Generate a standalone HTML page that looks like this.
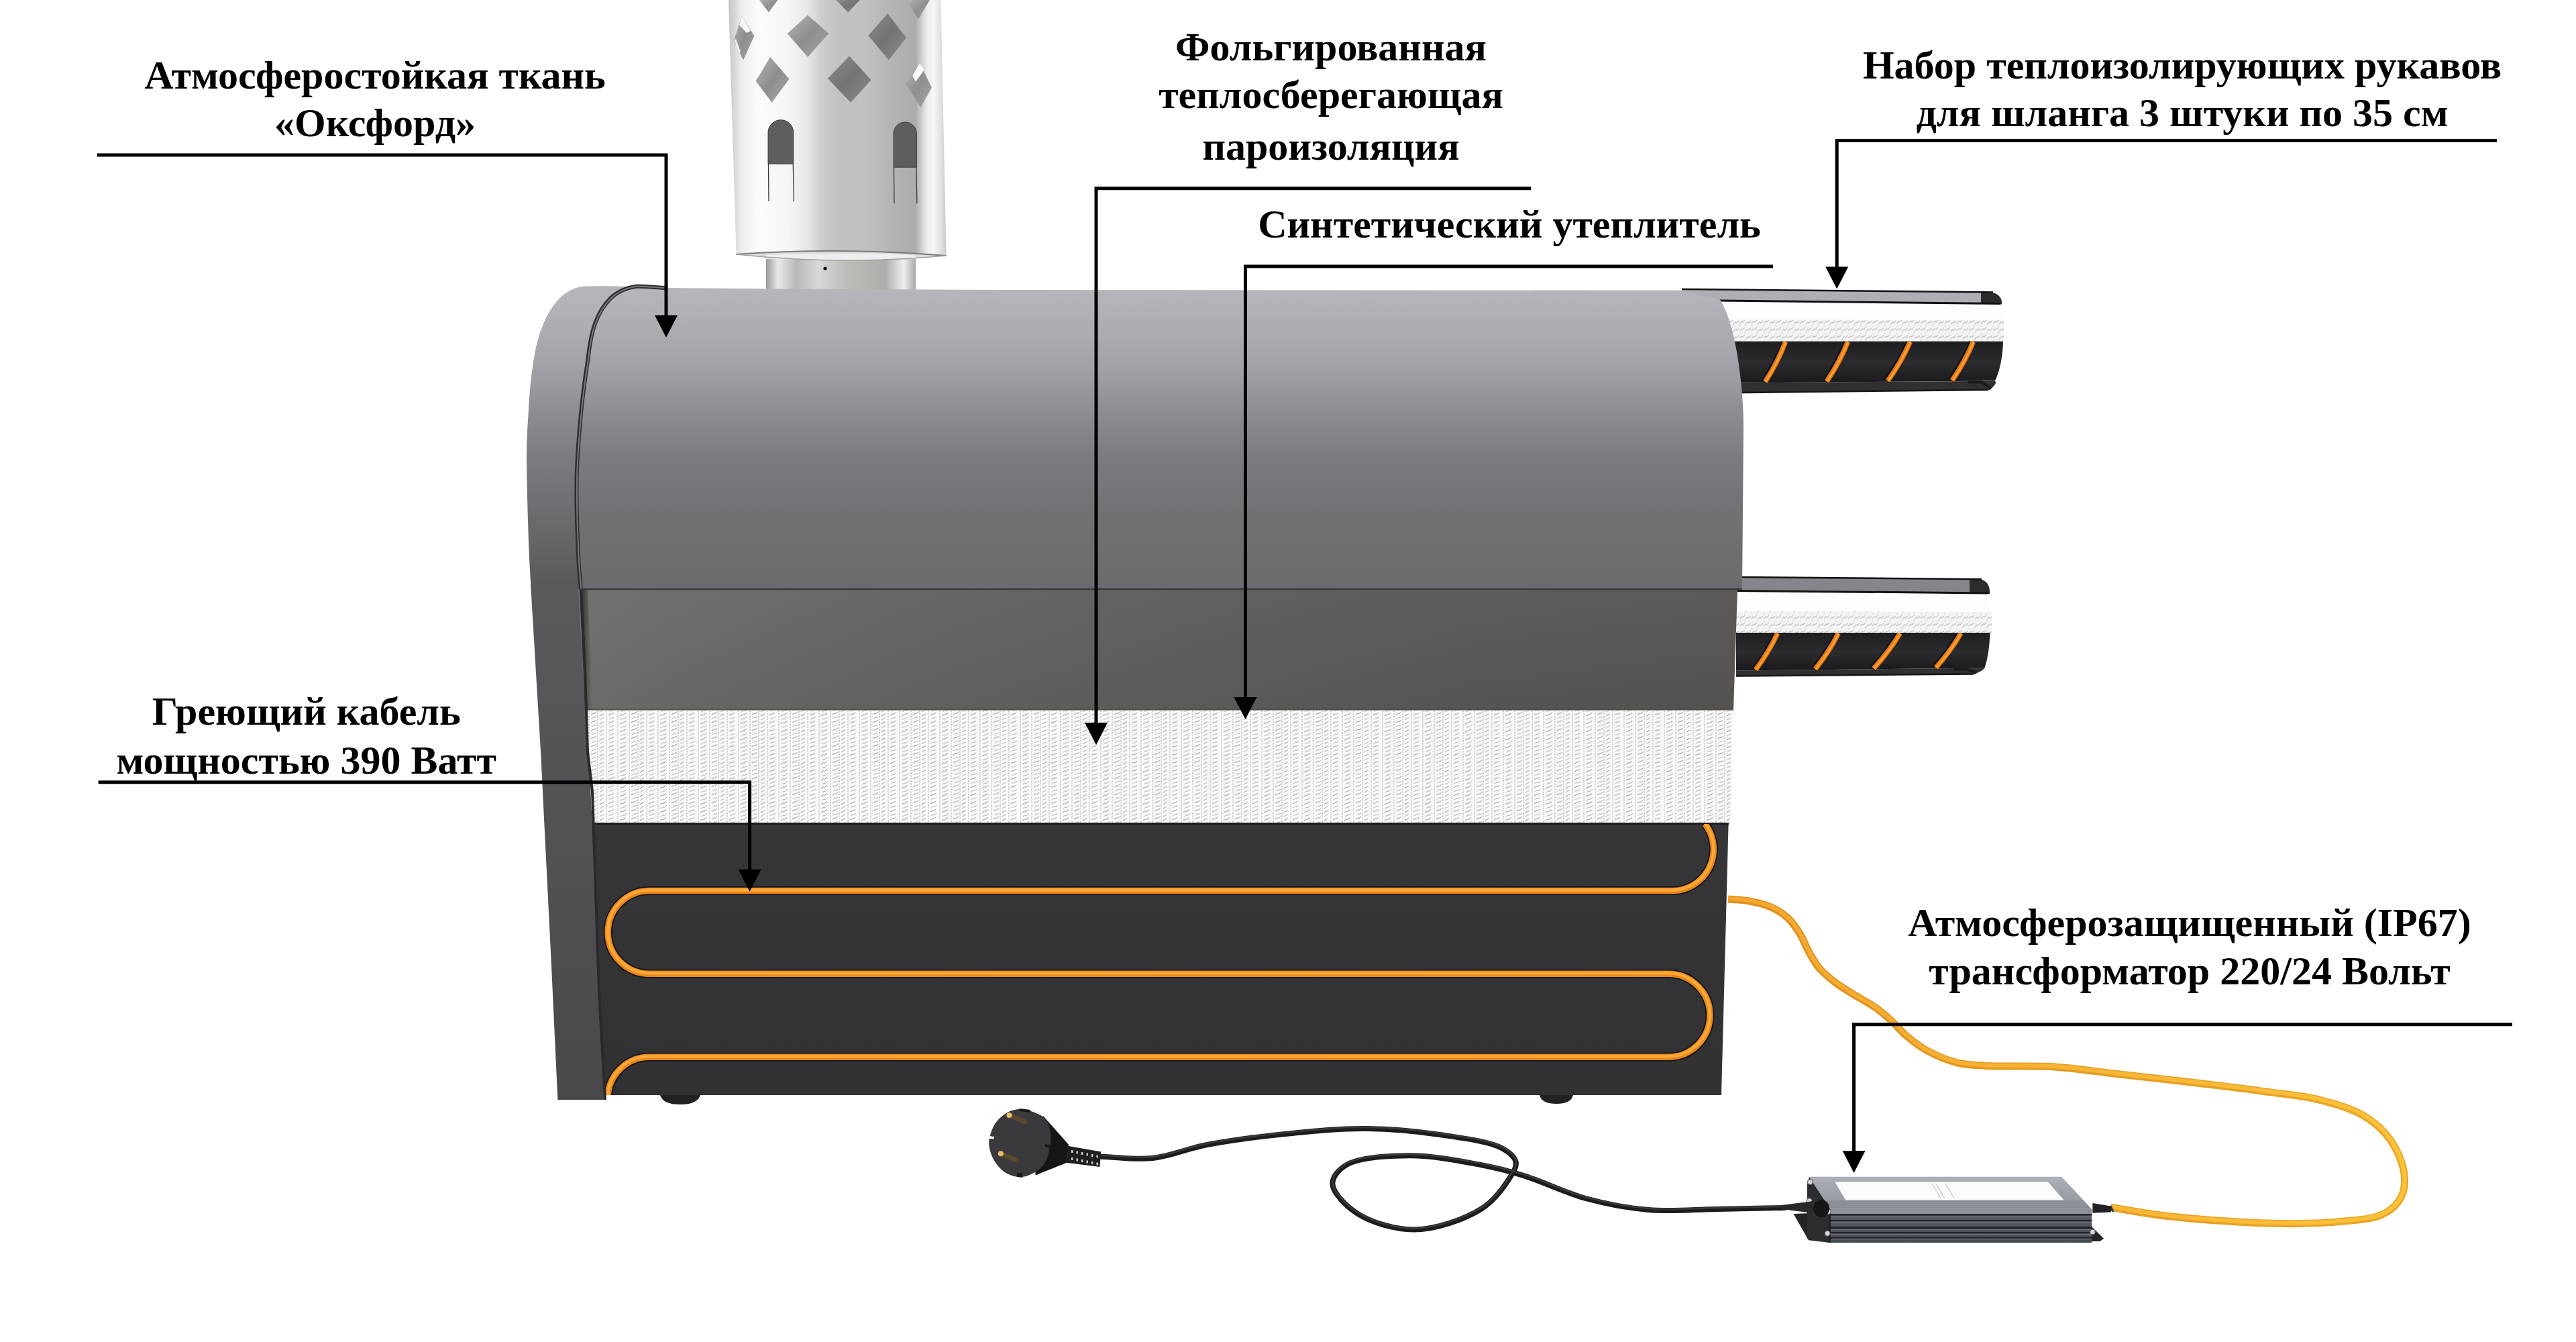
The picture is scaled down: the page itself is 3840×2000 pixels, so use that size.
<!DOCTYPE html>
<html><head><meta charset="utf-8"><title>Heated hose cover</title>
<style>
html,body{margin:0;padding:0;background:#fff;width:3840px;height:2000px;overflow:hidden;font-family:"Liberation Serif",serif;}
svg{position:absolute;left:0;top:0;display:block}
</style></head><body>
<svg width="3840" height="2000" viewBox="0 0 3840 2000">
<defs>
<linearGradient id="gCover" x1="0" y1="432" x2="0" y2="880" gradientUnits="userSpaceOnUse">
 <stop offset="0" stop-color="#b5b6bc"/>
 <stop offset="0.152" stop-color="#abacb2"/>
 <stop offset="0.286" stop-color="#9e9fa5"/>
 <stop offset="0.42" stop-color="#8b8c91"/>
 <stop offset="0.554" stop-color="#7b7c81"/>
 <stop offset="0.732" stop-color="#717176"/>
 <stop offset="1" stop-color="#6a6a6f"/>
</linearGradient>
<linearGradient id="gFoil" x1="860" y1="0" x2="2600" y2="0" gradientUnits="userSpaceOnUse">
 <stop offset="0" stop-color="#6f6e6b"/>
 <stop offset="0.08" stop-color="#6b6a67"/>
 <stop offset="0.31" stop-color="#63625f"/>
 <stop offset="0.54" stop-color="#5d5c59"/>
 <stop offset="0.77" stop-color="#595755"/>
 <stop offset="1" stop-color="#575452"/>
</linearGradient>
<linearGradient id="gFoilV" x1="0" y1="878" x2="0" y2="1058" gradientUnits="userSpaceOnUse">
 <stop offset="0" stop-color="#ffffff" stop-opacity="0.03"/>
 <stop offset="1" stop-color="#000000" stop-opacity="0.03"/>
</linearGradient>
<linearGradient id="gDark" x1="0" y1="1228" x2="0" y2="1632" gradientUnits="userSpaceOnUse">
 <stop offset="0" stop-color="#363638"/>
 <stop offset="1" stop-color="#313133"/>
</linearGradient>
<linearGradient id="gChim" x1="1086" y1="0" x2="1411" y2="0" gradientUnits="userSpaceOnUse">
 <stop offset="0" stop-color="#c4c4c6"/>
 <stop offset="0.015" stop-color="#cfcfd0"/>
 <stop offset="0.06" stop-color="#ededee"/>
 <stop offset="0.135" stop-color="#fbfbfb"/>
 <stop offset="0.274" stop-color="#f6f6f6"/>
 <stop offset="0.366" stop-color="#e6e6e6"/>
 <stop offset="0.428" stop-color="#cdcdcd"/>
 <stop offset="0.505" stop-color="#c2c2c2"/>
 <stop offset="0.628" stop-color="#c2c1c0"/>
 <stop offset="0.78" stop-color="#b3b1af"/>
 <stop offset="0.858" stop-color="#aeacaa"/>
 <stop offset="0.91" stop-color="#ecebea"/>
 <stop offset="0.94" stop-color="#f6f6f6"/>
 <stop offset="0.98" stop-color="#dcdcdc"/>
 <stop offset="1" stop-color="#c8c8c8"/>
</linearGradient>
<linearGradient id="gPipe" x1="1142" y1="0" x2="1365" y2="0" gradientUnits="userSpaceOnUse">
 <stop offset="0" stop-color="#9a9a9c"/>
 <stop offset="0.08" stop-color="#e8e8e8"/>
 <stop offset="0.2" stop-color="#b8b8b8"/>
 <stop offset="0.35" stop-color="#d8d8d8"/>
 <stop offset="0.55" stop-color="#bdbab6"/>
 <stop offset="0.8" stop-color="#b0aeab"/>
 <stop offset="0.92" stop-color="#eeeeee"/>
 <stop offset="1" stop-color="#a8a8a8"/>
</linearGradient>
<linearGradient id="gDia" x1="0" y1="0" x2="1" y2="1">
 <stop offset="0" stop-color="#b4b4b6"/>
 <stop offset="0.5" stop-color="#8e8e90"/>
 <stop offset="1" stop-color="#a6a6a8"/>
</linearGradient>
<linearGradient id="gDiaD" x1="0" y1="0" x2="1" y2="1">
 <stop offset="0" stop-color="#8a8a8c"/>
 <stop offset="0.5" stop-color="#747476"/>
 <stop offset="1" stop-color="#8c8c8e"/>
</linearGradient>
<pattern id="pIns" x="0" y="0" width="60" height="12" patternUnits="userSpaceOnUse">
 <rect width="60" height="12" fill="#f9f9fb"/>
 <path d="M4 0 V12 M21 0 V12 M38 0 V12 M51 0 V12" stroke="#c2c2c6" stroke-width="1.5" stroke-dasharray="1.8 1.8"/>
 <path d="M7 10 L10 8 L12 8.5 L15 6 M24 11 L27 9 L29 9.5 L33 6.5 M41 9 L44 7 L46 7.5 L49 5 M54 11 L57 9 L60 8" stroke="#bdbdc1" stroke-width="1.6" fill="none"/>
 <path d="M8 4 L11 2 L13 2.5 L16 0 M25 5 L28 3 L30 3.5 L34 0.5 M42 3 L45 1 L47 1.5 L49 0 M54 5 L57 3 L60 2" stroke="#c8c8cc" stroke-width="1.4" fill="none"/>
</pattern>
<pattern id="pTex" x="0" y="0" width="18" height="11" patternUnits="userSpaceOnUse">
 <rect width="18" height="11" fill="#f4f4f5"/>
 <path d="M1 9 L4 6 L6 7 L9 4 M10 10 L13 7 L15 8 L18 5" stroke="#c6c6ca" stroke-width="1.4" fill="none"/>
 <path d="M0 2 H3 M8 1 H11" stroke="#d4d4d8" stroke-width="1.2"/>
</pattern>
<linearGradient id="gTrTop" x1="0" y1="1754" x2="0" y2="1802" gradientUnits="userSpaceOnUse">
 <stop offset="0" stop-color="#a9adb5"/>
 <stop offset="1" stop-color="#92969f"/>
</linearGradient>
<linearGradient id="gTrFront" x1="0" y1="1802" x2="0" y2="1852" gradientUnits="userSpaceOnUse">
 <stop offset="0" stop-color="#5c6068"/>
 <stop offset="1" stop-color="#464a52"/>
</linearGradient>
<linearGradient id="gSleeveBlk" x1="0" y1="0" x2="0" y2="1">
 <stop offset="0" stop-color="#1e1e20"/>
 <stop offset="0.5" stop-color="#2c2c2e"/>
 <stop offset="1" stop-color="#1a1a1c"/>
</linearGradient>
<linearGradient id="gStrip" x1="0" y1="870" x2="0" y2="1640" gradientUnits="userSpaceOnUse">
 <stop offset="0" stop-color="#5a5a5e"/>
 <stop offset="1" stop-color="#49494c"/>
</linearGradient>
<linearGradient id="gOrEdge" x1="2576" y1="0" x2="3590" y2="0" gradientUnits="userSpaceOnUse">
 <stop offset="0" stop-color="#e08f1e"/>
 <stop offset="1" stop-color="#eaa828"/>
</linearGradient>
<linearGradient id="gOr" x1="2576" y1="0" x2="3590" y2="0" gradientUnits="userSpaceOnUse">
 <stop offset="0" stop-color="#f3a62e"/>
 <stop offset="1" stop-color="#fcc23a"/>
</linearGradient>
<linearGradient id="gStripOv" x1="0" y1="690" x2="0" y2="878" gradientUnits="userSpaceOnUse">
 <stop offset="0" stop-color="#000" stop-opacity="0"/>
 <stop offset="0.35" stop-color="#000" stop-opacity="0.03"/>
 <stop offset="1" stop-color="#000" stop-opacity="0.17"/>
</linearGradient>
<linearGradient id="gFoilShadow" x1="866" y1="0" x2="882" y2="0" gradientUnits="userSpaceOnUse">
 <stop offset="0" stop-color="#2a2a2c" stop-opacity="0.9"/>
 <stop offset="1" stop-color="#2a2a2c" stop-opacity="0"/>
</linearGradient>
<clipPath id="cDark"><polygon points="883,1228 2576.6,1228 2566,1632 901,1632"/></clipPath>
<clipPath id="cChim"><path d="M1086 0 L1402.5 0 L1410.7 382 Q1254 392 1097.5 380 Z"/></clipPath>
</defs>
<path d="M1142 380 L1365 380 L1365 432 L1142 432 Z" fill="url(#gPipe)"/>
<circle cx="1230" cy="400" r="2.6" fill="#111"/>
<path d="M1097.5 379 Q1254 368 1410.7 381 Q1254 396 1097.5 379 Z" fill="#dcdcde"/>
<path d="M1142 386 Q1254 389 1365 386 L1365 380 Q1254 376 1142 380 Z" fill="#eeeeee"/>
<path d="M1086 0 L1402.5 0 L1410.7 381 Q1254 368 1097.5 379 Z" fill="url(#gChim)"/>
<path d="M1097.5 379 Q1254 368 1410.7 381" stroke="#7a7a7c" stroke-width="2" fill="none"/>
<path d="M1097.5 379 Q1254 396 1410.7 381" stroke="#a0a0a2" stroke-width="1.5" fill="none"/>
<polygon points="1131.8,0.0 1159.4,0.0 1146.0,18.6" fill="url(#gDia)"/>
<polygon points="1246.6,0.0 1281.6,0.0 1264.2,18.6" fill="url(#gDiaD)"/>
<polygon points="1351.6,0.0 1385.9,0.0 1368.8,29.0" fill="url(#gDia)"/>
<polygon points="1105.8,23.8 1124.4,53.6 1108.0,89.4 1093.8,61.1" fill="url(#gDia)"/>
<polygon points="1204.1,22.4 1235.4,49.9 1204.1,84.9 1173.6,49.9" fill="url(#gDia)"/>
<polygon points="1323.3,20.1 1350.9,56.6 1324.8,89.4 1294.3,52.9" fill="url(#gDiaD)"/>
<polygon points="1148.2,84.9 1176.5,117.7 1150.5,152.7 1126.6,120.7" fill="url(#gDia)"/>
<polygon points="1266.0,83.4 1298.7,119.2 1268.2,152.7 1233.9,117.0" fill="url(#gDiaD)"/>
<polygon points="1371.0,93.9 1388.9,130.4 1372.5,160.2 1350.1,124.4" fill="url(#gDia)"/>
<polygon points="1105.8,23.8 1119,46 1113,49 1102,37" fill="#f6f6f6"/>
<polygon points="1094.6,60 1097,58 1104,77 1102,80" fill="#f2f2f2"/>
<polygon points="1371,94 1377.5,104.5 1365,121.5 1360,113" fill="#f8f8f8"/>
<path d="M1145.0 244.3 L1145.0 197.6 A18.9 18.9 0 0 1 1182.8 197.6 L1182.8 244.3 Z" fill="#5e5e60" stroke="#3a3a3c" stroke-width="1"/>
<path d="M1145.5 244.3 L1146.0 300.0 M1182.3 244.3 L1183.3 300.0" stroke="#3a3a3c" stroke-width="1.3"/>
<path d="M1332.0 249.2 L1332.0 199.2 A17.2 17.2 0 0 1 1366.4 199.2 L1366.4 249.2 Z" fill="#5e5e60" stroke="#3a3a3c" stroke-width="1"/>
<path d="M1332.5 249.2 L1333.0 303.3 M1365.9 249.2 L1366.9 303.3" stroke="#3a3a3c" stroke-width="1.3"/>
<path d="M2507.0 571.0 L2974.0 567.7 Q2978.0 571.6 2966.0 581.0 L2507.0 586.0 Z" fill="#303032"/>
<path d="M2507.0 586.0 L2964.0 581.0" stroke="#161618" stroke-width="2.5"/>
<path d="M2934.0 569.6 L2954.0 569.6 L2968.0 579.0" stroke="#1a1a1c" stroke-width="4" fill="none"/>
<path d="M2507.0 508.5 L2986.0 508.5 Q2985.0 544.0 2974.0 567.6 L2507.0 571.0 Z" fill="url(#gSleeveBlk)"/>
<path d="M2660.0 509.5 Q2648.9 539.3 2629.8 569.1" stroke="#0e1420" stroke-width="10" fill="none"/>
<path d="M2661.5 509.5 Q2650.4 539.3 2631.3 569.1" stroke="#e57814" stroke-width="7.5" fill="none"/>
<path d="M2662.0 509.5 Q2650.9 539.3 2631.8 569.1" stroke="#ff9e34" stroke-width="3" fill="none"/>
<path d="M2753.0 509.5 Q2741.2 539.0 2721.5 568.5" stroke="#0e1420" stroke-width="10" fill="none"/>
<path d="M2754.5 509.5 Q2742.8 539.0 2723.0 568.5" stroke="#e57814" stroke-width="7.5" fill="none"/>
<path d="M2755.0 509.5 Q2743.2 539.0 2723.5 568.5" stroke="#ff9e34" stroke-width="3" fill="none"/>
<path d="M2845.9 509.5 Q2833.2 538.7 2812.5 567.8" stroke="#0e1420" stroke-width="10" fill="none"/>
<path d="M2847.4 509.5 Q2834.7 538.7 2814.0 567.8" stroke="#e57814" stroke-width="7.5" fill="none"/>
<path d="M2847.9 509.5 Q2835.2 538.7 2814.5 567.8" stroke="#ff9e34" stroke-width="3" fill="none"/>
<path d="M2939.9 509.5 Q2928.2 538.3 2908.5 567.1" stroke="#0e1420" stroke-width="10" fill="none"/>
<path d="M2941.4 509.5 Q2929.7 538.3 2910.0 567.1" stroke="#e57814" stroke-width="7.5" fill="none"/>
<path d="M2941.9 509.5 Q2930.2 538.3 2910.5 567.1" stroke="#ff9e34" stroke-width="3" fill="none"/>
<polygon points="2507.0,476.0 2987.0,476.3 2987.0,508.5 2507.0,508.5" fill="url(#pTex)"/>
<polygon points="2507.0,447.0 2978.0,452.0 2987.0,476.3 2507.0,476.0" fill="#fdfdfe"/>
<polygon points="2507.0,431.0 2955.0,435.2 2955.0,451.7 2507.0,447.0" fill="#aeafb5"/>
<path d="M2953.0 434.2 L2971.0 436.0 Q2985.0 440.5 2984.0 453.5 L2953.0 452.7 Z" fill="#2c2c2e"/>
<path d="M2507.0 431.0 L2971.0 435.5" stroke="#111" stroke-width="2.5"/>
<path d="M2507.0 447.5 L2982.0 452.5" stroke="#111" stroke-width="3"/>
<path d="M2588.0 999.5 L2958.4 995.5 Q2956.0 999.4 2944.0 1004.5 L2588.0 1007.5 Z" fill="#303032"/>
<path d="M2588.0 1007.5 L2942.0 1004.5" stroke="#161618" stroke-width="2.5"/>
<path d="M2912.0 997.4 L2932.0 997.4 L2946.0 1002.5" stroke="#1a1a1c" stroke-width="4" fill="none"/>
<path d="M2588.0 943.0 L2966.5 943.0 Q2965.5 975.2 2958.4 995.4 L2588.0 999.5 Z" fill="url(#gSleeveBlk)"/>
<path d="M2648.1 944.0 Q2635.8 971.1 2615.5 998.2" stroke="#0e1420" stroke-width="10" fill="none"/>
<path d="M2649.6 944.0 Q2637.3 971.1 2617.0 998.2" stroke="#e57814" stroke-width="7.5" fill="none"/>
<path d="M2650.1 944.0 Q2637.8 971.1 2617.5 998.2" stroke="#ff9e34" stroke-width="3" fill="none"/>
<path d="M2738.9 944.0 Q2725.7 970.6 2704.5 997.2" stroke="#0e1420" stroke-width="10" fill="none"/>
<path d="M2740.4 944.0 Q2727.2 970.6 2706.0 997.2" stroke="#e57814" stroke-width="7.5" fill="none"/>
<path d="M2740.9 944.0 Q2727.7 970.6 2706.5 997.2" stroke="#ff9e34" stroke-width="3" fill="none"/>
<path d="M2830.8 944.0 Q2815.2 970.1 2791.5 996.3" stroke="#0e1420" stroke-width="10" fill="none"/>
<path d="M2832.3 944.0 Q2816.7 970.1 2793.0 996.3" stroke="#e57814" stroke-width="7.5" fill="none"/>
<path d="M2832.8 944.0 Q2817.2 970.1 2793.5 996.3" stroke="#ff9e34" stroke-width="3" fill="none"/>
<path d="M2921.5 944.0 Q2906.8 969.6 2884.2 995.3" stroke="#0e1420" stroke-width="10" fill="none"/>
<path d="M2923.0 944.0 Q2908.3 969.6 2885.7 995.3" stroke="#e57814" stroke-width="7.5" fill="none"/>
<path d="M2923.5 944.0 Q2908.8 969.6 2886.2 995.3" stroke="#ff9e34" stroke-width="3" fill="none"/>
<polygon points="2588.0,910.6 2969.0,911.7 2969.0,943.0 2588.0,943.0" fill="url(#pTex)"/>
<polygon points="2588.0,880.0 2960.0,883.4 2969.0,911.7 2588.0,910.6" fill="#fdfdfe"/>
<polygon points="2588.0,860.0 2938.0,862.9 2938.0,883.1 2588.0,880.0" fill="#85868c"/>
<path d="M2936.0 861.9 L2954.0 863.7 Q2967.0 868.2 2966.0 884.9 L2936.0 884.1 Z" fill="#2c2c2e"/>
<path d="M2588.0 860.0 L2954.0 863.2" stroke="#111" stroke-width="2.5"/>
<path d="M2588.0 880.5 L2964.0 883.9" stroke="#111" stroke-width="3"/>
<polygon points="791,870 866,870 876,1120 883,1180 893,1480 902,1639 831.4,1639 822,1440 809,1180 806,1120" fill="url(#gStrip)"/>
<polygon points="862,878 2597,878 2590,880 2584,1058 872,1058" fill="url(#gFoil)"/>
<polygon points="862,878 2597,878 2590,880 2584,1058 872,1058" fill="url(#gFoilV)"/>
<polygon points="864,878 876,878 884,1058 872,1058" fill="url(#gFoilShadow)"/>
<polygon points="874,1058 2584,1058 2579,1228 883,1228" fill="url(#pIns)"/>
<rect x="874" y="1056" width="1710" height="3" fill="#4a4a48" opacity="0.5"/>
<polygon points="883,1228 2576.6,1228 2566,1632 901,1632" fill="url(#gDark)"/>
<rect x="883" y="1226" width="1694" height="3" fill="#1e1e20"/>
<g clip-path="url(#cDark)">
<path d="M2541.7 1228 A62 62 0 0 1 2492 1327.6 L968 1327.6 A61.8 61.8 0 0 0 968 1451.2 L2487 1451.2 A62 62 0 0 1 2487 1575.2 L968 1575.2 A62 62 0 0 0 906 1637" stroke="#12141c" stroke-width="13" fill="none"/>
<path d="M2541.7 1228 A62 62 0 0 1 2492 1327.6 L968 1327.6 A61.8 61.8 0 0 0 968 1451.2 L2487 1451.2 A62 62 0 0 1 2487 1575.2 L968 1575.2 A62 62 0 0 0 906 1637" stroke="#e8861a" stroke-width="9.5" fill="none"/>
<path d="M2541.7 1228 A62 62 0 0 1 2492 1327.6 L968 1327.6 A61.8 61.8 0 0 0 968 1451.2 L2487 1451.2 A62 62 0 0 1 2487 1575.2 L968 1575.2 A62 62 0 0 0 906 1637" stroke="#ffa838" stroke-width="4.5" fill="none" transform="translate(0,-1)"/>
</g>
<path d="M869.9 426.8 C900 425 960 428 1000 429 L1160 430.6 L1500 432 L2507 432.8 L2564 446.5 C2575 465 2582 485 2590 530 C2596 570 2599 600 2599 640 L2597 878 L866 878 L792 878 C789 840 786 760 785 690.6 C785 660 786 640 787.2 623.5 C789 590 791 565 793.9 547.5 C797 525 801 505 807.3 489.4 C814 472 822 457 834 444.7 C845 434 857 428 869.9 426.8 Z" fill="url(#gCover)"/>
<path d="M785 690 C785 760 788 840 792 878 L866 878 C864 840 860 780 859.6 713 L859 690 Z" fill="url(#gStripOv)"/>
<path d="M995 429.5 C975 428 960 426.5 950 426.8 C935 428 920 435 910 444.7 C900 455 893 466 887.7 480.5 C882 495 879 512 876.6 534 C872 565 868 590 865.4 623.5 C862 660 860 690 859.6 713 C859 750 860 780 861 802 C862 840 864 860 866 878" stroke="#2e2e30" stroke-width="6" fill="none"/>
<path d="M995 429.5 C975 428 960 426.5 950 426.8 C935 428 920 435 910 444.7 C900 455 893 466 887.7 480.5 C882 495 879 512 876.6 534 C872 565 868 590 865.4 623.5 C862 660 860 690 859.6 713 C859 750 860 780 861 802 C862 840 864 860 866 878" stroke="#77787d" stroke-width="2" fill="none" transform="translate(0.5,0)"/>
<path d="M866 878 L872 999 L876 1120 L883 1180 L893 1480 L902 1639" stroke="#2a2a2c" stroke-width="4" fill="none"/>
<path d="M866 878 C1200 877 1800 879 2597 878" stroke="#3a3a3e" stroke-width="2.5" fill="none"/>
<path d="M984 1632 L1044 1632 Q1040 1646 1014 1646 Q988 1646 984 1632 Z" fill="#222224"/>
<path d="M2295 1632 L2345 1632 Q2342 1645 2320 1645 Q2298 1645 2295 1632 Z" fill="#222224"/>
<path d="M 2576.0 1340.1 C 2585.6 1340.9 2594.8 1340.7 2604.7 1342.4 C 2615.5 1344.3 2628.0 1346.8 2638.3 1351.3 C 2648.1 1355.5 2657.6 1361.2 2665.1 1368.1 C 2672.4 1374.7 2677.8 1383.2 2683.0 1391.5 C 2688.3 1399.9 2691.5 1409.8 2696.4 1418.4 C 2701.2 1426.9 2705.7 1435.6 2712.0 1443.0 C 2718.4 1450.5 2726.4 1456.9 2734.4 1463.1 C 2742.7 1469.6 2751.7 1475.0 2761.2 1481.0 C 2771.7 1487.6 2784.7 1494.0 2794.8 1501.1 C 2803.9 1507.5 2811.6 1514.1 2819.4 1521.2 C 2827.2 1528.3 2833.3 1536.5 2841.7 1543.6 C 2851.0 1551.5 2861.2 1559.6 2873.0 1566.0 C 2886.2 1573.2 2902.8 1580.1 2917.7 1583.8 C 2931.8 1587.3 2942.8 1587.3 2960.0 1588.4 C 2986.7 1590.0 3028.9 1587.7 3062.3 1589.9 C 3094.6 1592.0 3124.6 1597.1 3157.4 1600.8 C 3192.4 1604.8 3229.8 1608.7 3266.0 1613.0 C 3302.3 1617.3 3341.2 1622.0 3374.8 1626.6 C 3404.0 1630.6 3430.7 1632.3 3456.3 1638.8 C 3480.3 1644.9 3505.4 1651.8 3524.2 1663.3 C 3540.7 1673.4 3555.0 1686.5 3565.0 1701.3 C 3574.7 1715.6 3582.3 1735.0 3584.0 1750.2 C 3585.4 1762.7 3584.0 1775.6 3578.6 1785.5 C 3573.2 1795.6 3563.6 1804.2 3551.4 1810.0 C 3534.7 1818.0 3507.2 1818.6 3483.5 1820.9 C 3457.6 1823.4 3431.1 1823.8 3402.0 1823.6 C 3368.4 1823.3 3326.9 1820.7 3293.3 1818.2 C 3264.1 1816.0 3237.3 1813.4 3211.7 1810.0 C 3188.7 1806.9 3168.2 1802.7 3146.5 1799.1" stroke="url(#gOrEdge)" stroke-width="11" fill="none"/>
<path d="M 2576.0 1340.1 C 2585.6 1340.9 2594.8 1340.7 2604.7 1342.4 C 2615.5 1344.3 2628.0 1346.8 2638.3 1351.3 C 2648.1 1355.5 2657.6 1361.2 2665.1 1368.1 C 2672.4 1374.7 2677.8 1383.2 2683.0 1391.5 C 2688.3 1399.9 2691.5 1409.8 2696.4 1418.4 C 2701.2 1426.9 2705.7 1435.6 2712.0 1443.0 C 2718.4 1450.5 2726.4 1456.9 2734.4 1463.1 C 2742.7 1469.6 2751.7 1475.0 2761.2 1481.0 C 2771.7 1487.6 2784.7 1494.0 2794.8 1501.1 C 2803.9 1507.5 2811.6 1514.1 2819.4 1521.2 C 2827.2 1528.3 2833.3 1536.5 2841.7 1543.6 C 2851.0 1551.5 2861.2 1559.6 2873.0 1566.0 C 2886.2 1573.2 2902.8 1580.1 2917.7 1583.8 C 2931.8 1587.3 2942.8 1587.3 2960.0 1588.4 C 2986.7 1590.0 3028.9 1587.7 3062.3 1589.9 C 3094.6 1592.0 3124.6 1597.1 3157.4 1600.8 C 3192.4 1604.8 3229.8 1608.7 3266.0 1613.0 C 3302.3 1617.3 3341.2 1622.0 3374.8 1626.6 C 3404.0 1630.6 3430.7 1632.3 3456.3 1638.8 C 3480.3 1644.9 3505.4 1651.8 3524.2 1663.3 C 3540.7 1673.4 3555.0 1686.5 3565.0 1701.3 C 3574.7 1715.6 3582.3 1735.0 3584.0 1750.2 C 3585.4 1762.7 3584.0 1775.6 3578.6 1785.5 C 3573.2 1795.6 3563.6 1804.2 3551.4 1810.0 C 3534.7 1818.0 3507.2 1818.6 3483.5 1820.9 C 3457.6 1823.4 3431.1 1823.8 3402.0 1823.6 C 3368.4 1823.3 3326.9 1820.7 3293.3 1818.2 C 3264.1 1816.0 3237.3 1813.4 3211.7 1810.0 C 3188.7 1806.9 3168.2 1802.7 3146.5 1799.1" stroke="url(#gOr)" stroke-width="6" fill="none" transform="translate(0,-1)"/>
<path d="M 1641.0 1723.7 C 1666.6 1724.5 1692.1 1728.7 1717.9 1726.0 C 1744.9 1723.1 1769.7 1711.7 1799.4 1706.0 C 1834.6 1699.3 1876.6 1693.9 1915.9 1689.9 C 1956.0 1685.8 1998.2 1681.5 2037.6 1681.9 C 2074.8 1682.2 2111.4 1685.8 2146.0 1691.0 C 2178.5 1695.9 2220.5 1700.9 2239.5 1711.4 C 2249.9 1717.2 2258.2 1724.2 2259.7 1732.0 C 2261.2 1739.7 2254.7 1748.8 2248.8 1758.0 C 2240.2 1771.4 2226.8 1789.9 2208.4 1801.5 C 2184.0 1816.9 2141.1 1832.1 2109.0 1832.5 C 2079.1 1832.9 2043.2 1821.6 2022.0 1807.7 C 2005.3 1796.7 1986.8 1777.2 1986.4 1764.2 C 1986.1 1754.0 1995.3 1743.2 2006.6 1736.3 C 2025.2 1725.0 2067.4 1722.6 2099.7 1722.3 C 2134.5 1721.9 2177.3 1730.4 2208.4 1736.3 C 2232.2 1740.8 2248.0 1744.9 2270.6 1751.8 C 2298.7 1760.4 2332.3 1777.4 2363.7 1786.0 C 2394.4 1794.4 2424.9 1800.3 2456.9 1803.0 C 2490.3 1805.9 2525.9 1802.5 2560.0 1802.0 C 2593.6 1801.5 2626.7 1800.7 2660.0 1800.0" stroke="#1c1c1e" stroke-width="8" fill="none" stroke-linecap="round"/>
<path d="M 1641.0 1723.7 C 1666.6 1724.5 1692.1 1728.7 1717.9 1726.0 C 1744.9 1723.1 1769.7 1711.7 1799.4 1706.0 C 1834.6 1699.3 1876.6 1693.9 1915.9 1689.9 C 1956.0 1685.8 1998.2 1681.5 2037.6 1681.9 C 2074.8 1682.2 2111.4 1685.8 2146.0 1691.0 C 2178.5 1695.9 2220.5 1700.9 2239.5 1711.4 C 2249.9 1717.2 2258.2 1724.2 2259.7 1732.0 C 2261.2 1739.7 2254.7 1748.8 2248.8 1758.0 C 2240.2 1771.4 2226.8 1789.9 2208.4 1801.5 C 2184.0 1816.9 2141.1 1832.1 2109.0 1832.5 C 2079.1 1832.9 2043.2 1821.6 2022.0 1807.7 C 2005.3 1796.7 1986.8 1777.2 1986.4 1764.2 C 1986.1 1754.0 1995.3 1743.2 2006.6 1736.3 C 2025.2 1725.0 2067.4 1722.6 2099.7 1722.3 C 2134.5 1721.9 2177.3 1730.4 2208.4 1736.3 C 2232.2 1740.8 2248.0 1744.9 2270.6 1751.8 C 2298.7 1760.4 2332.3 1777.4 2363.7 1786.0 C 2394.4 1794.4 2424.9 1800.3 2456.9 1803.0 C 2490.3 1805.9 2525.9 1802.5 2560.0 1802.0 C 2593.6 1801.5 2626.7 1800.7 2660.0 1800.0" stroke="#3a3a3d" stroke-width="2.5" fill="none" transform="translate(0,-2)"/>
<polygon points="1555,1663 1592.9,1705.8 1590.2,1732.7 1543.7,1751.4 1540,1700" fill="#161618"/>
<path d="M 1520.5 1652.2 C 1528.2 1654.3 1537.0 1655.5 1543.7 1658.4 C 1549.5 1660.9 1555.2 1663.3 1558.9 1668.0 C 1563.0 1673.3 1565.1 1682.3 1566.0 1689.7 C 1566.9 1697.0 1566.0 1704.7 1564.5 1712.0 C 1563.0 1719.5 1560.7 1728.2 1557.0 1734.0 C 1554.0 1738.8 1550.3 1742.1 1545.5 1745.2 C 1539.6 1749.1 1530.6 1753.6 1523.1 1754.1 C 1515.7 1754.6 1507.4 1752.5 1500.8 1748.8 C 1493.9 1744.9 1487.3 1737.8 1482.9 1730.9 C 1478.5 1724.1 1475.2 1715.0 1474.4 1707.6 C 1473.7 1701.3 1474.8 1695.6 1476.6 1689.7 C 1478.5 1683.4 1481.6 1676.4 1486.0 1671.0 C 1490.7 1665.3 1498.1 1659.7 1504.4 1656.6 C 1509.7 1653.9 1515.1 1653.7 1520.5 1652.2 Z" fill="#3a3a3e"/>
<polygon points="1520.5,1652.2 1536,1654 1535,1658 1520,1656" fill="#1a1a1c"/>
<polygon points="1516,1748 1524,1748 1524,1755 1516,1754" fill="#1a1a1c"/>
<polygon points="1558,1705 1575,1710 1575,1713 1558,1709" fill="#151517"/>
<polygon points="1474.5,1693 1482,1694 1482,1697 1474.5,1697" fill="#ffffff"/>
<polygon points="1590.2,1707.6 1641.2,1716.6 1639.4,1738.9 1589.3,1732.7" fill="#1f1f21"/>
<rect x="1597.0" y="1714.0" width="2.4" height="4" fill="#d0d0d0"/>
<rect x="1597.0" y="1725.0" width="2.4" height="4" fill="#d0d0d0"/>
<rect x="1604.5" y="1715.5" width="2.4" height="4" fill="#d0d0d0"/>
<rect x="1604.5" y="1726.5" width="2.4" height="4" fill="#d0d0d0"/>
<rect x="1612.0" y="1717.0" width="2.4" height="4" fill="#d0d0d0"/>
<rect x="1612.0" y="1728.0" width="2.4" height="4" fill="#d0d0d0"/>
<rect x="1619.5" y="1718.5" width="2.4" height="4" fill="#d0d0d0"/>
<rect x="1619.5" y="1729.5" width="2.4" height="4" fill="#d0d0d0"/>
<rect x="1627.0" y="1720.0" width="2.4" height="4" fill="#d0d0d0"/>
<rect x="1627.0" y="1731.0" width="2.4" height="4" fill="#d0d0d0"/>
<rect x="1634.5" y="1721.5" width="2.4" height="4" fill="#d0d0d0"/>
<rect x="1634.5" y="1732.5" width="2.4" height="4" fill="#d0d0d0"/>
<path d="M1504.4 1662 L1527.6 1671.8" stroke="#5a4a2a" stroke-width="7" stroke-linecap="round"/>
<path d="M1491.8 1719.2 L1515.1 1729.1" stroke="#5a4a2a" stroke-width="7" stroke-linecap="round"/>
<circle cx="1504.4" cy="1662" r="4" fill="#e8c070"/><circle cx="1491.8" cy="1719.2" r="4" fill="#e8c070"/>
<polygon points="2673.5,1808.9 2696,1848.3 2728,1852 2728,1805 2700,1808" fill="#242426"/>
<polygon points="3117,1827 3136.2,1846 3130,1850 3117,1850" fill="#242426"/>
<polygon points="2697,1753.7 2728.7,1802 2726.4,1851.7 2693.8,1846 2693.8,1766" fill="#2c2d31"/>
<polygon points="2697,1753.7 3073.2,1753.7 3118.2,1802 2728.7,1802" fill="url(#gTrTop)"/>
<path d="M2699.0 1756.0 L3075.0 1756.0" stroke="#b4b8c0" stroke-width="0.8"/>
<path d="M2701.0 1758.5 L3077.0 1758.5" stroke="#b4b8c0" stroke-width="0.8"/>
<path d="M2703.0 1761.0 L3079.0 1761.0" stroke="#b4b8c0" stroke-width="0.8"/>
<path d="M2720.8 1790.0 L3107.0 1790.0" stroke="#7a7e87" stroke-width="0.9"/>
<path d="M2722.8 1793.0 L3109.8 1793.0" stroke="#7a7e87" stroke-width="0.9"/>
<path d="M2724.8 1796.0 L3112.6 1796.0" stroke="#7a7e87" stroke-width="0.9"/>
<path d="M2726.7 1799.0 L3115.4 1799.0" stroke="#7a7e87" stroke-width="0.9"/>
<polygon points="2735.4,1761.6 3053,1761.6 3076.6,1788.6 2751.2,1788.6" fill="#fbfbfc"/>
<path d="M2880 1764 L2893 1786 M2886 1764 L2899 1786 M2900 1764 L2913 1786" stroke="#9aa0b0" stroke-width="0.8"/>
<rect x="2728.7" y="1802" width="389.5" height="50" fill="url(#gTrFront)"/>
<rect x="2728.7" y="1802" width="389.5" height="7" fill="#8d919a"/>
<rect x="2728.7" y="1809.0" width="389.5" height="2.5" fill="#1f2125"/>
<rect x="2728.7" y="1818.0" width="389.5" height="2.0" fill="#1f2125"/>
<rect x="2728.7" y="1828.0" width="389.5" height="3.0" fill="#1f2125"/>
<rect x="2728.7" y="1836.0" width="389.5" height="2.0" fill="#1f2125"/>
<rect x="2728.7" y="1843.8" width="389.5" height="1.8" fill="#1f2125"/>
<rect x="2728.7" y="1812.0" width="389.5" height="1.2" fill="#6c7078"/>
<rect x="2728.7" y="1821.0" width="389.5" height="1.2" fill="#6c7078"/>
<rect x="2728.7" y="1832.0" width="389.5" height="1.2" fill="#6c7078"/>
<rect x="2728.7" y="1839.0" width="389.5" height="1.2" fill="#6c7078"/>
<rect x="2728.7" y="1846.0" width="389.5" height="1.2" fill="#6c7078"/>
<rect x="2726" y="1802" width="3" height="50" fill="#1e1f22"/>
<circle cx="2698.3" cy="1761.6" r="4" fill="#d4d4d4" stroke="#555" stroke-width="1"/>
<circle cx="2697.2" cy="1789.7" r="4" fill="#d4d4d4" stroke="#555" stroke-width="1"/>
<circle cx="2725.3" cy="1805.5" r="4" fill="#d4d4d4" stroke="#555" stroke-width="1"/>
<circle cx="2724.2" cy="1838.2" r="4" fill="#d4d4d4" stroke="#555" stroke-width="1"/>
<circle cx="3119.4" cy="1836.0" r="4" fill="#d4d4d4" stroke="#555" stroke-width="1"/>
<path d="M2656 1796 L2703 1790 L2703 1808 L2656 1802 Z" fill="#2a2a2c"/>
<ellipse cx="2715" cy="1801" rx="12" ry="13" fill="#161618"/>
<path d="M3119.4 1793 L3146.4 1797.6 L3149 1802 L3146.4 1806.6 L3119.4 1807.8 Z" fill="#222224"/>
<path d="M3146 1797 L3150 1806" stroke="#2a3550" stroke-width="3"/>
<path d="M145.0 231.0 L995.0 231.0 M993.0 228.5 L993.0 483.0" stroke="#000" stroke-width="5" fill="none"/><polygon points="976.0,470.0 1010.0,470.0 993.0,503.0" fill="#000"/>
<path d="M1632.0 280.7 L2282.0 280.7 M1634.0 278.2 L1634.0 1090.0" stroke="#000" stroke-width="5" fill="none"/><polygon points="1617.0,1077.0 1651.0,1077.0 1634.0,1110.0" fill="#000"/>
<path d="M1854.0 397.0 L2643.0 397.0 M1856.5 394.5 L1856.5 1052.0" stroke="#000" stroke-width="5" fill="none"/><polygon points="1839.5,1039.0 1873.5,1039.0 1856.5,1072.0" fill="#000"/>
<path d="M2736.0 209.4 L3722.0 209.4 M2738.2 206.9 L2738.2 410.4" stroke="#000" stroke-width="5" fill="none"/><polygon points="2721.2,397.4 2755.2,397.4 2738.2,430.4" fill="#000"/>
<path d="M146.6 1165.7 L1118.0 1165.7 M1117.6 1163.2 L1117.6 1308.7" stroke="#000" stroke-width="5" fill="none"/><polygon points="1100.6,1295.7 1134.6,1295.7 1117.6,1328.7" fill="#000"/>
<path d="M2761.0 1526.7 L3745.0 1526.7 M2763.6 1524.2 L2763.6 1728.0" stroke="#000" stroke-width="5" fill="none"/><polygon points="2746.6,1715.0 2780.6,1715.0 2763.6,1748.0" fill="#000"/>
<g font-family="Liberation Serif" font-weight="bold" font-size="60" text-anchor="middle" fill="#000">
<text x="559.0" y="131.5">Атмосферостойкая ткань</text>
<text x="559.0" y="203.0">«Оксфорд»</text>
<text x="1984.0" y="89.5">Фольгированная</text>
<text x="1984.0" y="160.8">теплосберегающая</text>
<text x="1984.0" y="238.0">пароизоляция</text>
<text x="2250.0" y="353.5">Синтетический утеплитель</text>
<text x="3253.0" y="117.0">Набор теплоизолирующих рукавов</text>
<text x="3253.0" y="187.5">для шланга 3 штуки по 35 см</text>
<text x="456.7" y="1080.2">Греющий кабель</text>
<text x="456.7" y="1152.6">мощностью 390 Ватт</text>
<text x="3264.0" y="1394.7">Атмосферозащищенный (IP67)</text>
<text x="3264.0" y="1467.4">трансформатор 220/24 Вольт</text>
</g>
</svg>
</body></html>
